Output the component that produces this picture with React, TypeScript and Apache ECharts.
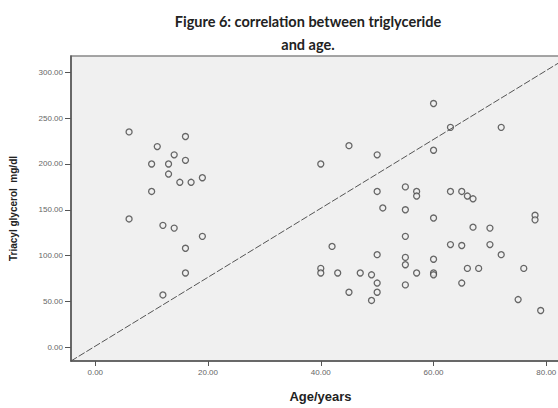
import React, { useEffect, useRef } from "react";
import * as echarts from "echarts";

const TITLE_LINES = ["Figure 6: correlation between triglyceride", "and age."];
const X_NAME = "Age/years";
const Y_NAME = "Triacyl glycerol  mg/dl";

const X_TICKS = [0, 20, 40, 60, 80];
const Y_TICKS = [0, 50, 100, 150, 200, 250, 300];
const X_MIN = -4.3;
const X_MAX = 84.2;
const Y_MIN = -15.1;
const Y_MAX = 317.9;

const ages = [
  6, 16, 11, 14, 16, 10, 13, 13, 15, 17, 19, 10, 6, 12, 14, 19, 16, 16, 12,
  45, 50, 40, 50, 51, 55, 55, 55, 42, 50, 55, 55, 40, 40, 43, 47, 49, 50, 55, 45, 50, 49,
  60, 63, 72, 60, 57, 57, 63, 65, 66, 67, 60, 78, 78, 67, 70, 63, 65, 70, 72, 60, 57, 60, 60, 66, 68, 76, 65, 75, 79,
];
const triglyceride = [
  235, 230, 219, 210, 204, 200, 200, 189, 180, 180, 185, 170, 140, 133, 130, 121, 108, 81, 57,
  220, 210, 200, 170, 152, 175, 150, 121, 110, 101, 98, 90, 86, 81, 81, 81, 79, 70, 68, 60, 60, 51,
  266, 240, 240, 215, 170, 165, 170, 170, 165, 162, 141, 144, 139, 131, 130, 112, 111, 112, 101, 96, 81, 81, 79, 86, 86, 86, 70, 52, 40,
];

export default function App() {
  const ref = useRef<HTMLDivElement>(null);
  useEffect(() => {
    if (!ref.current) return;
    const chart = echarts.init(ref.current, null, { renderer: "svg" });
    const points = ages.map((a, i) => [a, triglyceride[i]]);
    const tickLabel = {
      color: "#666",
      fontSize: 8,
      fontFamily: "Liberation Sans",
    };
    chart.setOption({
      animation: false,
      graphic: TITLE_LINES.map((t, i) => ({
        type: "text",
        x: 308,
        y: 21 + i * 23,
        style: {
          text: t,
          fill: "#222",
          font: "bold 14.5px Lato",
          textAlign: "center",
          textVerticalAlign: "middle",
        },
      })),
      grid: {
        left: 69,
        top: 56,
        width: 501,
        height: 317,
        show: true,
        backgroundColor: "#f0f0f0",
        borderColor: "#888",
        borderWidth: 1.5,
      },
      xAxis: {
        type: "value",
        min: X_MIN,
        max: X_MAX,
        name: X_NAME,
        nameLocation: "middle",
        nameGap: 29,
        nameTextStyle: { fontSize: 13, fontWeight: "bold", color: "#222", fontFamily: "Liberation Sans" },
        splitLine: { show: false },
        axisLine: { show: true, onZero: false, lineStyle: { color: "#555", width: 1.5 } },
        axisTick: { show: true, length: 5, customValues: X_TICKS, lineStyle: { color: "#555" } },
        axisLabel: {
          ...tickLabel,
          margin: 7,
          customValues: X_TICKS,
          formatter: (v: number) => v.toFixed(2),
        },
      },
      yAxis: {
        type: "value",
        min: Y_MIN,
        max: Y_MAX,
        name: Y_NAME,
        nameLocation: "middle",
        nameRotate: 90,
        nameGap: 53,
        nameTextStyle: { fontSize: 10, fontWeight: "bold", color: "#222", fontFamily: "Liberation Sans" },
        splitLine: { show: false },
        axisLine: { show: true, onZero: false, lineStyle: { color: "#555", width: 1.5 } },
        axisTick: { show: true, length: 6, customValues: Y_TICKS, lineStyle: { color: "#555" } },
        axisLabel: {
          ...tickLabel,
          margin: 8,
          customValues: Y_TICKS,
          formatter: (v: number) => v.toFixed(2),
        },
      },
      series: [
        {
          type: "scatter",
          data: points,
          symbol: "circle",
          symbolSize: 6,
          itemStyle: { color: "#f0f0f0", borderColor: "#444", borderWidth: 1.3 },
          markLine: {
            silent: true,
            symbol: "none",
            label: { show: false },
            lineStyle: { color: "#555", width: 1, type: [7, 2] },
            data: [[{ coord: [X_MIN, Y_MIN] }, { coord: [X_MAX, Y_MAX] }]],
          },
        },
      ],
    });
    return () => chart.dispose();
  }, []);
  return (
    <div style={{ position: "fixed", left: 0, top: 0, width: 558, height: 408, overflow: "hidden", background: "#fff" }}>
      <div ref={ref} style={{ width: 580, height: 408 }} />
    </div>
  );
}
